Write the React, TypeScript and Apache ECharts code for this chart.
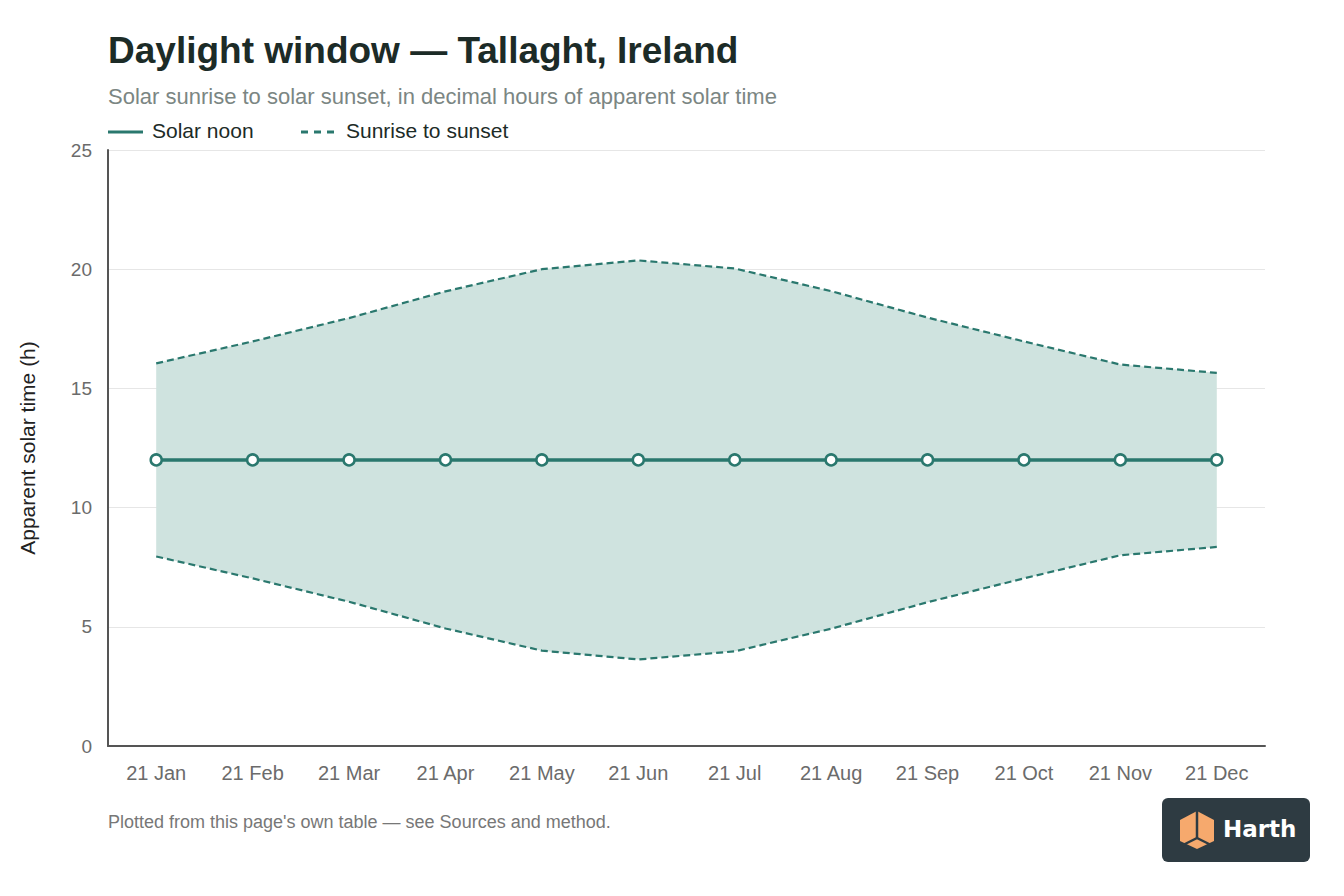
import React, { useEffect, useRef } from 'react';
import * as echarts from 'echarts';

// 21st of each month
const months = ['21 Jan', '21 Feb', '21 Mar', '21 Apr', '21 May', '21 Jun', '21 Jul', '21 Aug', '21 Sep', '21 Oct', '21 Nov', '21 Dec'];
// decimal hours, apparent solar time
const sunrise = [7.95, 7.03, 6.05, 4.93, 4.0, 3.63, 3.97, 4.92, 6.03, 7.03, 8.0, 8.35];
const sunset = [16.05, 16.97, 17.95, 19.07, 20.0, 20.37, 20.03, 19.08, 17.97, 16.97, 16.0, 15.65];
const solarNoon = [12, 12, 12, 12, 12, 12, 12, 12, 12, 12, 12, 12];

const TEAL = '#2a786e';
const FILL = '#cfe3df';
const FONT = '"Liberation Sans", Arial, Helvetica, sans-serif';

const App: React.FC = () => {
  const chartRef = useRef<HTMLDivElement>(null);

  useEffect(() => {
    if (!chartRef.current) return;
    const chart = echarts.init(chartRef.current, null, { renderer: 'svg' });

    const band = sunset.map((v, i) => +(v - sunrise[i]).toFixed(2));

    const option: echarts.EChartsOption = {
      animation: false,
      backgroundColor: '#fff',
      textStyle: { fontFamily: FONT },
      grid: { left: 100, right: 71, top: 142, bottom: 142, containLabel: false },
      xAxis: {
        type: 'category',
        data: months,
        boundaryGap: true,
        axisLine: { lineStyle: { color: '#555', width: 2 } },
        axisTick: { show: false },
        axisLabel: { color: '#6b6b6b', fontSize: 20, margin: 17, fontFamily: FONT },
      },
      yAxis: {
        type: 'value',
        min: 0,
        max: 25,
        interval: 5,
        name: 'Apparent solar time (h)',
        nameLocation: 'middle',
        nameGap: 70,
        nameTextStyle: { color: '#222', fontSize: 21, fontFamily: FONT },
        axisLine: { show: true, lineStyle: { color: '#555', width: 2 } },
        axisTick: { show: false },
        axisLabel: { color: '#6b6b6b', fontSize: 19, margin: 16, fontFamily: FONT },
        splitLine: { lineStyle: { color: '#e6e6e6', width: 1 } },
      },
      series: [
        {
          name: 'Sunrise',
          type: 'line',
          data: sunrise,
          stack: 'band',
          symbol: 'none',
          lineStyle: { color: TEAL, width: 2.2, type: [7, 4] },
          z: 3,
        },
        {
          name: 'Sunrise to sunset',
          type: 'line',
          data: band,
          stack: 'band',
          symbol: 'none',
          lineStyle: { color: TEAL, width: 2.2, type: [7, 4] },
          areaStyle: { color: FILL, opacity: 1 },
          z: 2,
        },
        {
          name: 'Solar noon',
          type: 'line',
          data: solarNoon,
          symbol: 'circle',
          symbolSize: 11,
          itemStyle: { color: '#fff', borderColor: TEAL, borderWidth: 2.5 },
          lineStyle: { color: TEAL, width: 3.5 },
          z: 5,
        },
      ],
      graphic: [
        {
          type: 'text',
          left: 100,
          top: 24,
          style: { text: 'Daylight window — Tallaght, Ireland', font: `bold 37px ${FONT}`, fill: '#1c2b27' },
        },
        {
          type: 'text',
          left: 100,
          top: 77,
          style: { text: 'Solar sunrise to solar sunset, in decimal hours of apparent solar time', font: `22px ${FONT}`, fill: '#7b8683' },
        },
        {
          type: 'line',
          shape: { x1: 100, y1: 124, x2: 135, y2: 124 },
          style: { stroke: TEAL, lineWidth: 3 },
        },
        {
          type: 'text',
          left: 144,
          top: 112,
          style: { text: 'Solar noon', font: `21px ${FONT}`, fill: '#1c2b27' },
        },
        {
          type: 'line',
          shape: { x1: 293, y1: 124, x2: 326, y2: 124 },
          style: { stroke: TEAL, lineWidth: 3, lineDash: [7, 6] },
        },
        {
          type: 'text',
          left: 338,
          top: 112,
          style: { text: 'Sunrise to sunset', font: `21px ${FONT}`, fill: '#1c2b27' },
        },
        {
          type: 'text',
          left: 100,
          top: 805,
          style: { text: "Plotted from this page's own table — see Sources and method.", font: `18px ${FONT}`, fill: '#777' },
        },
        {
          type: 'group',
          left: 1154,
          top: 790,
          children: [
            { type: 'rect', shape: { x: 0, y: 0, width: 148, height: 64, r: 6 }, style: { fill: '#2e3b42' } },
            {
              type: 'polygon',
              shape: { points: [[35, 13], [52, 22], [52, 43], [35, 51], [18, 43], [18, 22]] },
              style: { fill: '#f6a96d' },
            },
            { type: 'line', shape: { x1: 35, y1: 13, x2: 35, y2: 40 }, style: { stroke: '#2e3b42', lineWidth: 2.5 } },
            { type: 'line', shape: { x1: 35, y1: 40, x2: 19, y2: 48 }, style: { stroke: '#2e3b42', lineWidth: 2.5 } },
            { type: 'line', shape: { x1: 35, y1: 40, x2: 51, y2: 48 }, style: { stroke: '#2e3b42', lineWidth: 2.5 } },
            {
              type: 'text',
              x: 61,
              y: 19,
              style: { text: 'Harth', font: `bold 23px "DejaVu Sans", sans-serif`, fill: '#fff' },
            },
          ],
        },
      ],
    };

    chart.setOption(option);
    return () => {
      chart.dispose();
    };
  }, []);

  return <div ref={chartRef} style={{ width: 1328, height: 880 }} />;
};

export default App;
